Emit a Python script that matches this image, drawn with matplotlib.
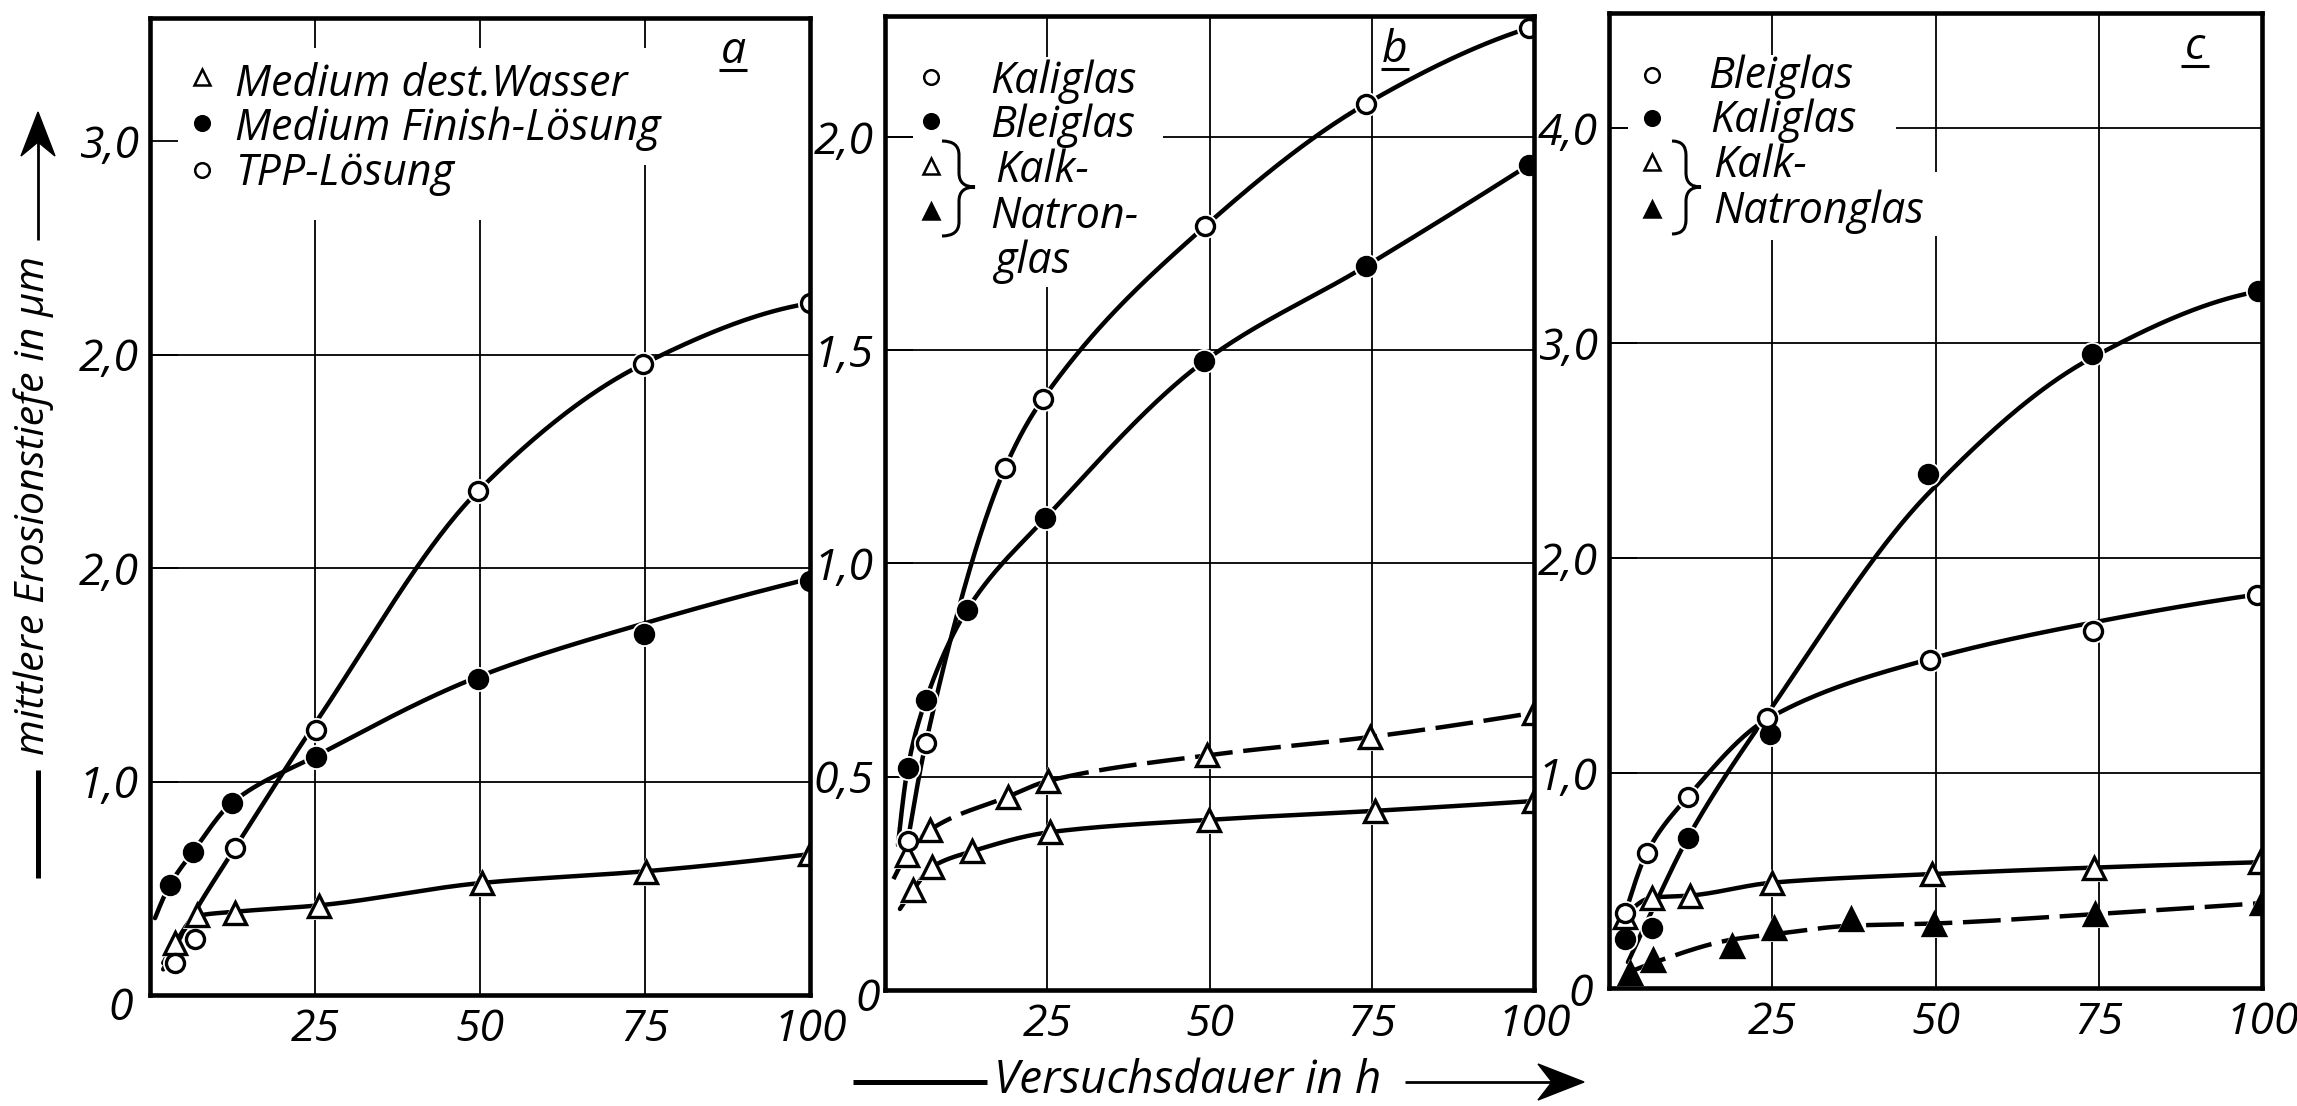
import numpy as np
import matplotlib
matplotlib.use("Agg")
import matplotlib.pyplot as plt
from matplotlib.patches import Rectangle, Polygon, PathPatch
from matplotlib.path import Path
from matplotlib.lines import Line2D

# ---------------- data ----------------
XTICK_POS = [25, 50, 75, 100]
XTICK_LAB = ["25", "50", "75", "100"]

A_YTICK_POS = [1, 2, 3, 4]
A_YTICK_LAB = ["1,0", "2,0", "2,0", "3,0"]
B_YTICK_POS = [0.5, 1.0, 1.5, 2.0]
B_YTICK_LAB = ["0,5", "1,0", "1,5", "2,0"]
C_YTICK_POS = [1, 2, 3, 4]
C_YTICK_LAB = ["1,0", "2,0", "3,0", "4,0"]

# panel a
a_wasser_h = [3.8, 7.1, 12.9, 25.6, 50.3, 75.2, 100]
a_wasser_v = [0.244, 0.375, 0.384, 0.415, 0.525, 0.575, 0.66]
a_wasser_fit_h = [2.0, 3.8, 7.1, 12.9, 25.6, 50.3, 75.2, 100]
a_wasser_fit_v = [0.15, 0.244, 0.37, 0.39, 0.42, 0.525, 0.58, 0.66]

a_finish_h = [3.0, 6.5, 12.4, 25.2, 49.7, 74.8, 100]
a_finish_v = [0.515, 0.67, 0.90, 1.115, 1.48, 1.69, 1.94]
a_finish_fit_h = [0.76, 3.0, 6.5, 12.4, 25.2, 49.7, 74.8, 100]
a_finish_fit_v = [0.36, 0.515, 0.67, 0.90, 1.12, 1.49, 1.74, 1.95]

a_tpp_h = [3.8, 6.8, 12.9, 25.2, 49.7, 74.7, 100]
a_tpp_v = [0.15, 0.26, 0.69, 1.24, 2.36, 2.955, 3.24]
a_tpp_fit_h = [2.0, 7.0, 12.9, 25.2, 49.7, 74.7, 100]
a_tpp_fit_v = [0.12, 0.40, 0.69, 1.28, 2.36, 2.955, 3.24]

# panel b
b_kali_h = [3.5, 6.3, 18.5, 24.3, 49.3, 74.1, 99.2]
b_kali_v = [0.35, 0.58, 1.224, 1.385, 1.79, 2.077, 2.255]
b_kali_fit_h = [3.4, 6.3, 18.5, 24.3, 49.3, 74.1, 99.2]
b_kali_fit_v = [0.34, 0.58, 1.224, 1.385, 1.79, 2.077, 2.255]

b_blei_h = [3.5, 6.3, 12.6, 24.7, 49.2, 74.1, 99.2]
b_blei_v = [0.52, 0.68, 0.89, 1.106, 1.474, 1.697, 1.934]
b_blei_fit_h = [2.0, 3.5, 6.3, 12.6, 24.7, 49.2, 74.1, 99.2]
b_blei_fit_v = [0.34, 0.52, 0.68, 0.89, 1.106, 1.474, 1.697, 1.934]

b_kn_solid_h = [4.3, 7.2, 13.4, 25.4, 49.9, 75.5, 100]
b_kn_solid_v = [0.234, 0.288, 0.325, 0.37, 0.399, 0.42, 0.443]
b_kn_solid_fit_h = [2.3, 4.3, 7.2, 13.4, 25.4, 49.9, 75.5, 100]
b_kn_solid_fit_v = [0.19, 0.234, 0.288, 0.325, 0.37, 0.399, 0.42, 0.443]

b_kn_dash_h = [3.4, 6.9, 18.9, 25.1, 49.6, 74.7, 100]
b_kn_dash_v = [0.317, 0.375, 0.453, 0.49, 0.55, 0.593, 0.65]
b_kn_dash_fit_h = [1.3, 3.4, 6.9, 18.9, 25.1, 49.6, 74.7, 100]
b_kn_dash_fit_v = [0.26, 0.317, 0.375, 0.453, 0.49, 0.55, 0.593, 0.65]

# panel c
c_blei_h = [2.5, 5.8, 12.1, 24.2, 49.1, 74.1, 99.2]
c_blei_v = [0.35, 0.63, 0.89, 1.256, 1.526, 1.66, 1.83]
c_blei_fit_h = [1.7, 2.5, 5.8, 12.1, 24.2, 49.1, 74.1, 99.2]
c_blei_fit_v = [0.27, 0.35, 0.63, 0.89, 1.25, 1.53, 1.70, 1.83]

c_kali_h = [2.5, 6.6, 12.1, 24.6, 48.9, 73.9, 99.4]
c_kali_v = [0.23, 0.28, 0.70, 1.18, 2.39, 2.95, 3.24]
c_kali_fit_h = [2.9, 6.6, 12.1, 24.6, 48.9, 73.9, 99.4]
c_kali_fit_v = [0.12, 0.36, 0.70, 1.29, 2.30, 2.93, 3.24]

c_kn_solid_h = [2.5, 6.6, 12.4, 25.0, 49.5, 74.2, 99.7]
c_kn_solid_v = [0.33, 0.42, 0.43, 0.49, 0.53, 0.56, 0.585]
c_kn_solid_fit_h = [1.7, 2.5, 6.6, 12.4, 25.0, 49.5, 74.2, 99.7]
c_kn_solid_fit_v = [0.27, 0.33, 0.42, 0.43, 0.49, 0.53, 0.56, 0.585]

c_kn_dash_h = [3.2, 6.8, 18.8, 25.2, 37.1, 49.7, 74.5, 100]
c_kn_dash_v = [0.07, 0.13, 0.195, 0.28, 0.32, 0.30, 0.344, 0.395]
c_kn_dash_fit_h = [3.2, 7.2, 18.8, 25.2, 37.1, 49.7, 74.5, 100]
c_kn_dash_fit_v = [0.075, 0.122, 0.225, 0.25, 0.29, 0.30, 0.344, 0.395]

# ---------------- helpers ----------------
W, H = 2297, 1106
FONT = dict(family=["Open Sans", "DejaVu Sans"], style="italic")
TICK_FS = 32
LEG_FS = 31


def P(x, y):
    return (x / W, 1 - y / H)


def pchip(x, y, per=60):
    x = np.asarray(x, float)
    y = np.asarray(y, float)
    n = len(x)
    h = np.diff(x)
    d = np.diff(y) / h
    m = np.zeros(n)
    for k in range(1, n - 1):
        if d[k - 1] * d[k] > 0:
            w1 = 2 * h[k] + h[k - 1]
            w2 = h[k] + 2 * h[k - 1]
            m[k] = (w1 + w2) / (w1 / d[k - 1] + w2 / d[k])

    def endslope(h0, h1, d0, d1):
        s = ((2 * h0 + h1) * d0 - h0 * d1) / (h0 + h1)
        if np.sign(s) != np.sign(d0):
            s = 0.0
        elif np.sign(d0) != np.sign(d1) and abs(s) > abs(3 * d0):
            s = 3 * d0
        return s

    m[0] = endslope(h[0], h[1], d[0], d[1])
    m[-1] = endslope(h[-1], h[-2], d[-1], d[-2])
    xs, ys = [], []
    for k in range(n - 1):
        t = np.linspace(0, 1, per, endpoint=(k == n - 2))
        h00 = 2 * t**3 - 3 * t**2 + 1
        h10 = t**3 - 2 * t**2 + t
        h01 = -2 * t**3 + 3 * t**2
        h11 = t**3 - t**2
        xs.append(x[k] + t * h[k])
        ys.append(h00 * y[k] + h10 * h[k] * m[k] + h01 * y[k + 1] + h11 * h[k] * m[k + 1])
    return np.concatenate(xs), np.concatenate(ys)


LW = 3.2
MS = {"o": 13.0, "^": 15.5}


def series(ax, mh, mv, fh, fv, marker, filled, dashed):
    xs, ys = pchip(fh, fv)
    ls = (0, (8.5, 2.4)) if dashed else "-"
    ax.plot(xs, ys, color="k", lw=LW, ls=ls, zorder=3, solid_capstyle="round")
    ms = MS[marker]
    ax.plot(mh, mv, ls="none", marker=marker, ms=ms + 5, mfc="white", mec="white", mew=0, zorder=4)
    ax.plot(mh, mv, ls="none", marker=marker, ms=ms, mfc="k" if filled else "white",
            mec="k", mew=2.4, zorder=5)


fig = plt.figure(figsize=(W / 100, H / 100), dpi=100)
fig.patch.set_facecolor("white")


def make_axes(l, t, r, b, ymax, ypos, ylab, hgrid):
    ax = fig.add_axes([l / W, 1 - b / H, (r - l) / W, (b - t) / H])
    ax.set_xlim(0, 100)
    ax.set_ylim(0, ymax)
    ax.set_xticks(XTICK_POS)
    ax.set_xticklabels(XTICK_LAB)
    ax.set_yticks(ypos)
    ax.set_yticklabels(ylab)
    ax.tick_params(axis="x", length=0, pad=9, labelsize=TICK_FS)
    ax.tick_params(axis="y", direction="in", length=20, width=1.3, pad=8, labelsize=TICK_FS)
    for lab in ax.get_xticklabels() + ax.get_yticklabels():
        lab.set_family(FONT["family"])
        lab.set_fontstyle("italic")
    for y in hgrid:
        ax.axhline(y, color="k", lw=1.3, zorder=1)
    for x in XTICK_POS[:-1]:
        ax.axvline(x, color="k", lw=1.3, zorder=1)
    for s in ax.spines.values():
        s.set_linewidth(3.3)
        s.set_zorder(6)
    return ax


def white_rect(ax, x0, y0, x1, y1):
    ax.add_patch(Rectangle(P(x0, y1), (x1 - x0) / W, (y1 - y0) / H, transform=fig.transFigure,
                           facecolor="white", edgecolor="none", zorder=1.6))


def leg_marker(x, y, marker, filled):
    ms = 10.5 if marker == "o" else 12.0
    fig.add_artist(Line2D([P(x, y)[0]], [P(x, y)[1]], transform=fig.transFigure, ls="none",
                          marker=marker, ms=ms, mfc="k" if filled else "white", mec="k", mew=1.8))


def ftext(x, y, s, size=LEG_FS, **kw):
    fig.text(P(x, y)[0], P(x, y)[1], s, fontsize=size, **FONT, **kw)


def fline(x0, y0, x1, y1, lw):
    fig.add_artist(Line2D([P(x0, y0)[0], P(x1, y1)[0]], [P(x0, y0)[1], P(x1, y1)[1]],
                          transform=fig.transFigure, color="k", lw=lw, solid_capstyle="butt"))


def brace(x0, xm, xt, ytop, ymid, ybot, r=14):
    verts = [(x0, ytop), (xm, ytop), (xm, ytop + r), (xm, ymid - r), (xm, ymid), (xt, ymid),
             (xm, ymid), (xm, ymid + r), (xm, ybot - r), (xm, ybot), (x0, ybot)]
    codes = [Path.MOVETO, Path.CURVE3, Path.CURVE3, Path.LINETO, Path.CURVE3, Path.CURVE3,
             Path.CURVE3, Path.CURVE3, Path.LINETO, Path.CURVE3, Path.CURVE3]
    verts = [P(x, y) for x, y in verts]
    fig.add_artist(PathPatch(Path(verts, codes), transform=fig.transFigure, fill=False,
                             lw=2.2, edgecolor="k"))


def panel_label(x, ybase, s):
    ftext(x, ybase, s, size=32, ha="center", va="baseline")
    fline(x - 14, ybase + 7, x + 14, ybase + 7, 2.2)


# ---------------- panel a ----------------
axa = make_axes(150, 18, 810, 995, 977 / 213.5, A_YTICK_POS, A_YTICK_LAB, [1, 2, 3])
white_rect(axa, 181, 48, 812, 165)
white_rect(axa, 181, 165, 497, 220)
series(axa, a_wasser_h, a_wasser_v, a_wasser_fit_h, a_wasser_fit_v, "^", False, False)
series(axa, a_tpp_h, a_tpp_v, a_tpp_fit_h, a_tpp_fit_v, "o", False, False)
series(axa, a_finish_h, a_finish_v, a_finish_fit_h, a_finish_fit_v, "o", True, False)

leg_marker(202, 77, "^", False)
leg_marker(202, 123, "o", True)
leg_marker(202, 170, "o", False)
ftext(235, 96, "Medium dest.Wasser", va="baseline")
ftext(235, 140, "Medium Finish-Lösung", va="baseline")
ftext(235, 185, "TPP-Lösung", va="baseline")
panel_label(733, 63, "a")
ftext(121, 1009, "0", size=TICK_FS, ha="center", va="center")

# ---------------- panel b ----------------
axb = make_axes(885, 16, 1534, 990, 974 / 426.6, B_YTICK_POS, B_YTICK_LAB, [0.5, 1.0, 1.5, 2.0])
white_rect(axb, 913, 57, 1163, 287)
series(axb, b_kn_solid_h, b_kn_solid_v, b_kn_solid_fit_h, b_kn_solid_fit_v, "^", False, False)
series(axb, b_kn_dash_h, b_kn_dash_v, b_kn_dash_fit_h, b_kn_dash_fit_v, "^", False, True)
series(axb, b_kali_h, b_kali_v, b_kali_fit_h, b_kali_fit_v, "o", False, False)
series(axb, b_blei_h, b_blei_v, b_blei_fit_h, b_blei_fit_v, "o", True, False)

leg_marker(931, 77, "o", False)
leg_marker(931, 121, "o", True)
leg_marker(931, 166, "^", False)
leg_marker(931, 211, "^", True)
ftext(990, 93, "Kaliglas", va="baseline")
ftext(990, 137, "Bleiglas", va="baseline")
ftext(995, 182, "Kalk-", va="baseline")
ftext(990, 228, "Natron-", va="baseline")
ftext(995, 273, "glas", va="baseline")
brace(942, 959, 975, 141, 187, 236)
panel_label(1395, 62, "b")
ftext(868, 1000, "0", size=TICK_FS, ha="center", va="center")

# ---------------- panel c ----------------
axc = make_axes(1609, 13, 2262, 988, 975 / 215, C_YTICK_POS, C_YTICK_LAB, [1, 2, 3, 4])
white_rect(axc, 1628, 55, 1896, 240)
white_rect(axc, 1896, 172, 1948, 236)
series(axc, c_kn_dash_h, c_kn_dash_v, c_kn_dash_fit_h, c_kn_dash_fit_v, "^", True, True)
series(axc, c_kn_solid_h, c_kn_solid_v, c_kn_solid_fit_h, c_kn_solid_fit_v, "^", False, False)
series(axc, c_kali_h, c_kali_v, c_kali_fit_h, c_kali_fit_v, "o", True, False)
series(axc, c_blei_h, c_blei_v, c_blei_fit_h, c_blei_fit_v, "o", False, False)

leg_marker(1652, 75, "o", False)
leg_marker(1652, 118, "o", True)
leg_marker(1652, 162, "^", False)
leg_marker(1652, 209, "^", True)
ftext(1708, 88, "Bleiglas", va="baseline")
ftext(1710, 132, "Kaliglas", va="baseline")
ftext(1713, 177, "Kalk-", va="baseline")
ftext(1713, 223, "Natronglas", va="baseline")
brace(1672, 1686, 1701, 141, 187, 234)
panel_label(2195, 59, "c")
ftext(1581, 995, "0", size=TICK_FS, ha="center", va="center")

# ---------------- axis labels with arrows ----------------
fline(853, 1082, 987, 1082, 3.6)
ftext(994, 1093, "Versuchsdauer in h", size=33, ha="left", va="baseline")
fline(1405, 1082, 1555, 1082, 2.0)
fig.add_artist(Polygon([P(1584, 1082), P(1538, 1064), P(1552, 1082), P(1538, 1100)],
                       closed=True, transform=fig.transFigure, facecolor="k", edgecolor="k", lw=1))
fline(38, 878, 38, 770, 3.6)
fig.text(P(44, 505)[0], P(44, 505)[1], "mittlere Erosionstiefe in µm", fontsize=29.7, **FONT,
         rotation=90, rotation_mode="anchor", ha="center", va="baseline")
fline(38, 240, 38, 142, 2.0)
fig.add_artist(Polygon([P(38, 112), P(21, 156), P(38, 142), P(55, 156)],
                       closed=True, transform=fig.transFigure, facecolor="k", edgecolor="k", lw=1))

fig.savefig("out.png", dpi=100, facecolor="white")
